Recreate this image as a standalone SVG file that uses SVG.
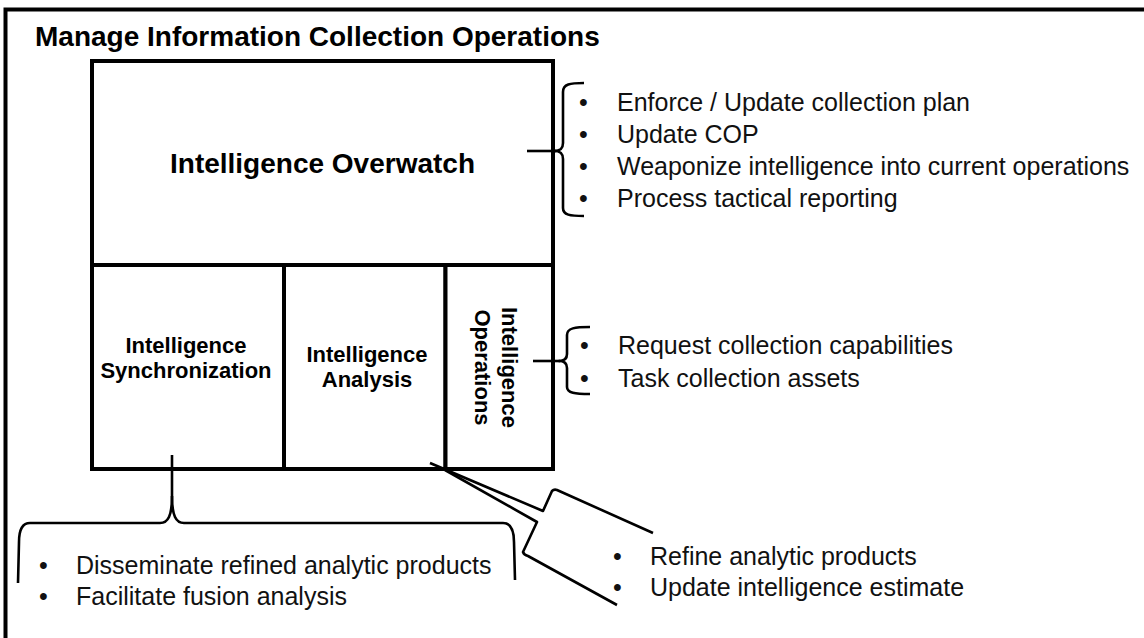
<svg xmlns="http://www.w3.org/2000/svg" width="1144" height="638" viewBox="0 0 1144 638">
  <style>
    .frame { fill: none; stroke: #000; stroke-width: 4; }
    .box { fill: #fff; stroke: #000; stroke-width: 4; }
    .div { fill: none; stroke: #000; stroke-width: 4; }
    .brace { fill: none; stroke: #000; stroke-width: 2.6; stroke-linejoin: round; stroke-linecap: butt; }
    .head { font-family: "Liberation Sans", Arial, sans-serif; font-weight: bold; fill: #000; }
    .item { font-family: "Liberation Sans", Arial, sans-serif; font-size: 25px; fill: #111; }
  </style>

  <rect x="0" y="0" width="1144" height="638" fill="#fff"/>

  <!-- outer frame (top and left edges) -->
  <path class="frame" d="M5.5,640 V9.5 H1146"/>

  <text class="head" x="35" y="46" font-size="28">Manage Information Collection Operations</text>

  <!-- main block -->
  <g id="overwatch">
    <rect class="box" x="92" y="61" width="461" height="204"/>
    <text class="head" x="322.5" y="173" font-size="28" text-anchor="middle">Intelligence Overwatch</text>
  </g>

  <g id="synchronization">
    <rect class="box" x="92" y="265" width="192" height="204"/>
    <text class="head" x="186" y="353" font-size="22" text-anchor="middle">Intelligence</text>
    <text class="head" x="186" y="378" font-size="22" text-anchor="middle">Synchronization</text>
  </g>

  <g id="analysis">
    <rect class="box" x="284" y="265" width="161.5" height="204"/>
    <text class="head" x="367" y="362" font-size="22" text-anchor="middle">Intelligence</text>
    <text class="head" x="367" y="387" font-size="22" text-anchor="middle">Analysis</text>
  </g>

  <g id="operations">
    <rect class="box" x="445.5" y="265" width="107.5" height="204"/>
    <g transform="translate(502,367.5) rotate(90)">
      <text class="head" x="0" y="0" font-size="22" text-anchor="middle">Intelligence</text>
      <text class="head" x="0" y="27" font-size="22" text-anchor="middle">Operations</text>
    </g>
  </g>

  <!-- braces linking blocks to their task lists -->
  <g id="connectors">
    <!-- overwatch -->
    <path class="brace" d="M527,151 H556"/>
    <path class="brace" d="M584,83 C570,83 563,84 563,92 L563,143 C563,149 560,151 554,151 C560,151 563,153 563,159 L563,208 C563,215 570,216 584,216"/>
    <!-- operations -->
    <path class="brace" d="M533,361 H560"/>
    <path class="brace" d="M590,327 C575,327 567,328 567,335 L567,354 C567,359 564,361 559,361 C564,361 567,363 567,368 L567,387 C567,393 575,394 590,394"/>
    <!-- synchronization -->
    <path class="brace" d="M172,455 L172,496 C172,516 168,523 160,523 L30,523 C22,523 19,530 19,542 L18,583"/>
    <path class="brace" d="M172,496 C172,516 176,523 184,523 L503,523 C511,523 514,530 514,542 L515,580"/>
    <!-- analysis -->
    <path class="brace" d="M430,463 L543,511 L552,491 Q554,489 557,490 L653,533"/>
    <path class="brace" d="M445,470 L537,522 L523,552 Q524,555 528,556 L617,605"/>
  </g>

  <!-- task lists -->
  <g id="overwatch-tasks" class="item">
    <text x="579" y="111">•</text><text x="617" y="111">Enforce / Update collection plan</text>
    <text x="579" y="143">•</text><text x="617" y="143">Update COP</text>
    <text x="579" y="175">•</text><text x="617" y="175">Weaponize intelligence into current operations</text>
    <text x="579" y="207">•</text><text x="617" y="207">Process tactical reporting</text>
  </g>

  <g id="operations-tasks" class="item">
    <text x="580" y="354">•</text><text x="618" y="354">Request collection capabilities</text>
    <text x="580" y="387">•</text><text x="618" y="387">Task collection assets</text>
  </g>

  <g id="synchronization-tasks" class="item">
    <text x="39" y="574">•</text><text x="76" y="574">Disseminate refined analytic products</text>
    <text x="39" y="605">•</text><text x="76" y="605">Facilitate fusion analysis</text>
  </g>

  <g id="analysis-tasks" class="item">
    <text x="613" y="565">•</text><text x="650" y="565">Refine analytic products</text>
    <text x="613" y="596">•</text><text x="650" y="596">Update intelligence estimate</text>
  </g>
</svg>
